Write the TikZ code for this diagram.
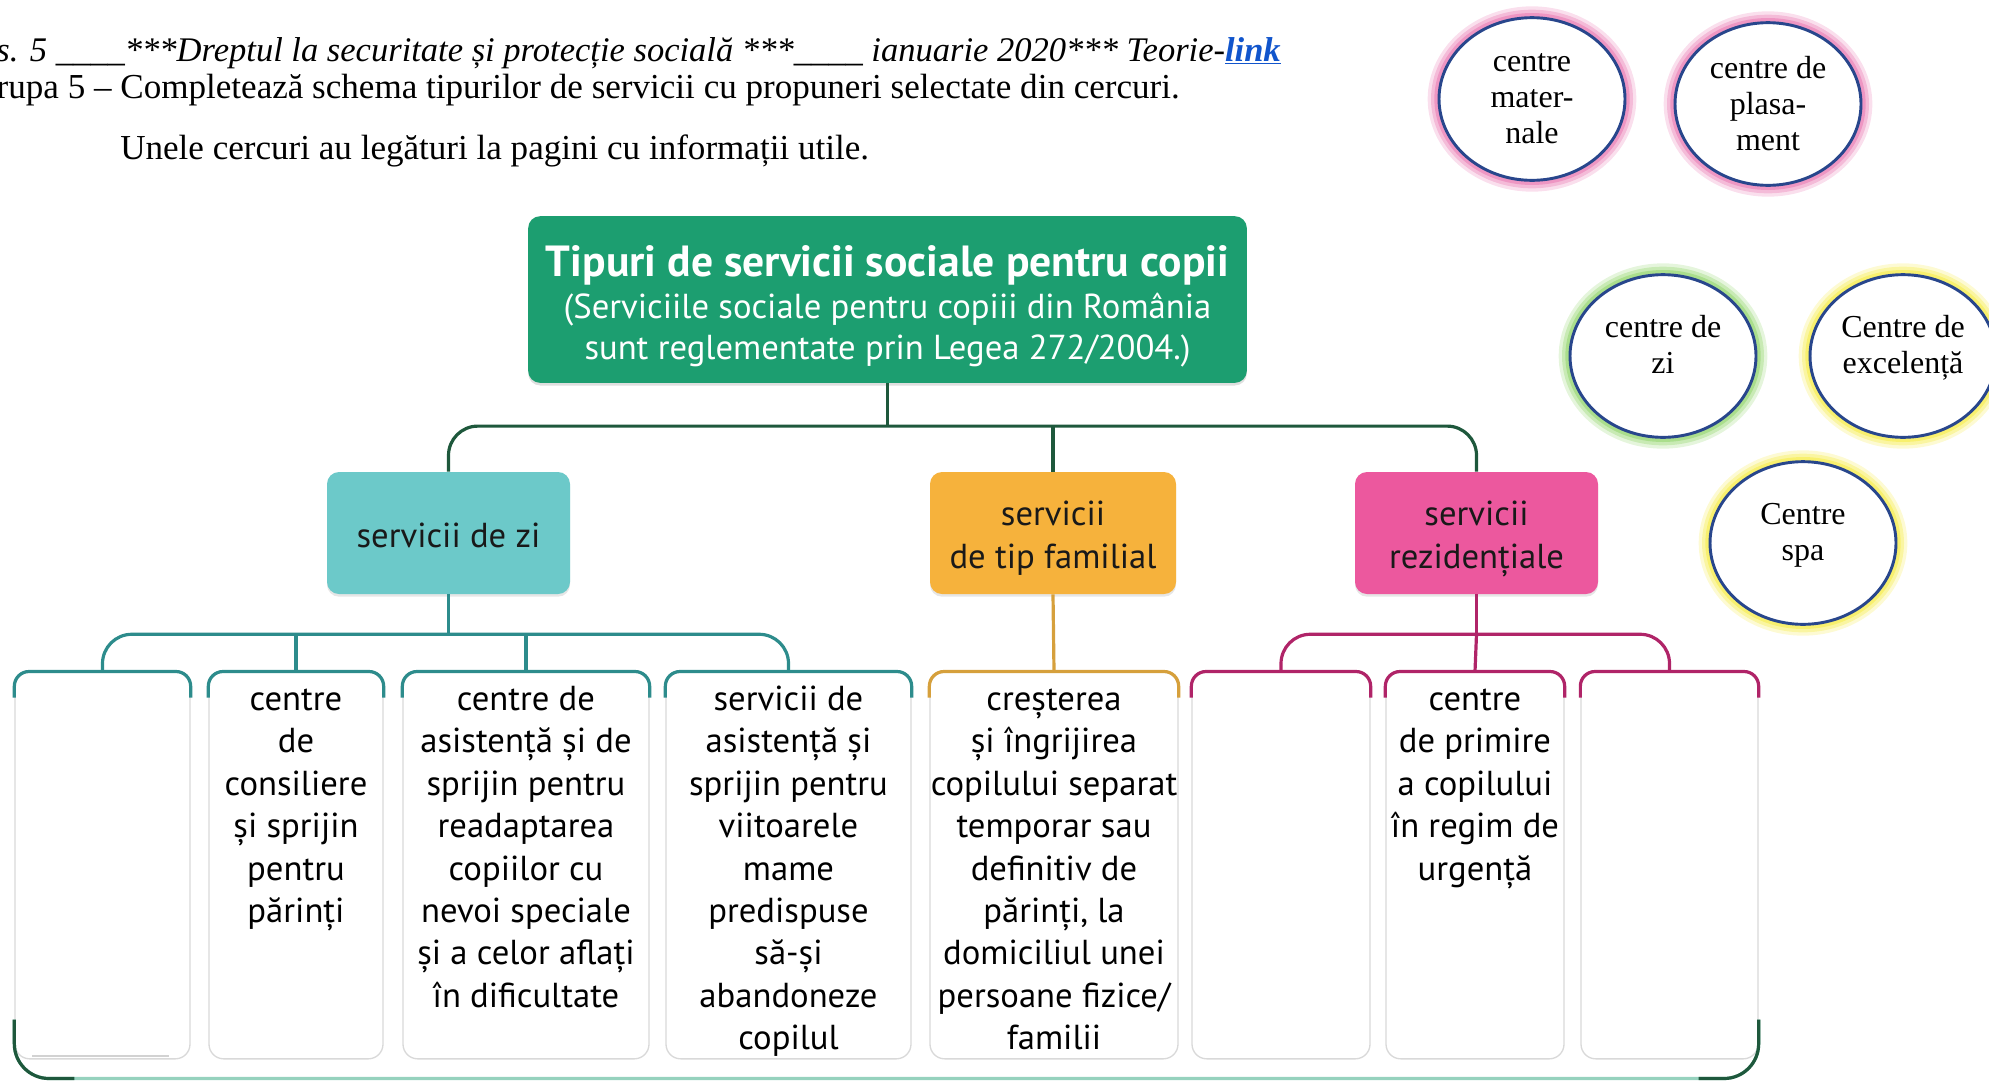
\documentclass[tikz,border=0pt]{standalone}
\usepackage{fontspec}
\setmainfont{Liberation Serif}
\newfontfamily\ptsans{PT Sans}
\usetikzlibrary{calc,shapes.geometric,shadows}
\definecolor{mgreen}{RGB}{28,158,112}
\definecolor{dgreen}{RGB}{30,88,60}
\definecolor{tealbox}{RGB}{108,201,201}
\definecolor{tealln}{RGB}{45,140,140}
\definecolor{orgbox}{RGB}{246,178,60}
\definecolor{orgln}{RGB}{214,160,60}
\definecolor{pinkbox}{RGB}{236,88,158}
\definecolor{pinkln}{RGB}{176,36,104}
\definecolor{cblue}{RGB}{40,70,140}
\definecolor{glowpink}{RGB}{238,150,195}
\definecolor{glowgreen}{RGB}{170,222,140}
\definecolor{glowyellow}{RGB}{248,240,110}
\definecolor{linkblue}{RGB}{17,85,204}
\definecolor{mint}{RGB}{150,210,190}
\newsavebox\shbox
\newcommand\shiftbox[2]{\sbox\shbox{#2}\raisebox{#1}[\ht\shbox][\dp\shbox]{\usebox\shbox}}
\newcommand\leaftext[2]{\parbox[c][290pt][t]{#1}{\centering\vspace*{6.5pt}\begin{tabular}[t]{@{}c@{}}#2\end{tabular}}}
\newcommand\twoline[1]{\shiftbox{5.7pt}{\begin{tabular}{@{}c@{}}#1\end{tabular}}}
\newcommand\catlines[1]{\shiftbox{-4.3pt}{\begin{tabular}{@{}c@{}}#1\end{tabular}}}
\begin{document}
\begin{tikzpicture}[x=0.75pt,y=-0.75pt,
  mainbox/.style={fill=mgreen, rounded corners=9pt, minimum width=539pt, minimum height=125pt, text=white, align=center, inner sep=0pt,
    drop shadow={shadow xshift=0pt, shadow yshift=-2pt, opacity=0.25}, font=\ptsans\fontsize{26}{30.5}\selectfont},
  catbox/.style={fill=#1, rounded corners=9pt, minimum height=91.5pt, align=center, inner sep=0pt, text=black!90,
    drop shadow={shadow xshift=0pt, shadow yshift=-2pt, opacity=0.2}, font=\ptsans\fontsize{26}{32}\selectfont},
  leafbox/.style={draw=gray!30, line width=1pt, fill=white, rounded corners=11pt, inner sep=0pt,
    font=\ptsans\fontsize{26}{31.8}\selectfont},
  dline/.style={draw=dgreen, line width=2.4pt},
  tline/.style={draw=tealln, line width=2.4pt},
  oline/.style={draw=orgln, line width=2.4pt},
  pline/.style={draw=pinkln, line width=2.4pt},
  circ/.style={ellipse, draw=cblue, line width=2.2pt, fill=white, minimum width=139.5pt, minimum height=122pt, inner sep=0pt,
    align=center, font=\fontsize{24}{27}\selectfont,
    preaction={draw=#1, line width=17pt, opacity=0.3},
    preaction={draw=#1, line width=12pt, opacity=0.5},
    preaction={draw=#1, line width=7pt}},
  hdr/.style={inner sep=0pt, font=\fontsize{26.3}{30}\selectfont}
]
\useasboundingbox (0,0) rectangle (1989,1082);

% header text
\node[hdr, anchor=base east, font=\fontsize{25.9}{30}\selectfont] (h1) at (1281,61) {\itshape s. 5 \_\_\_\_***Dreptul la securitate și protecție socială ***\_\_\_\_ ianuarie 2020*** Teorie-\textcolor{linkblue}{\bfseries\underline{link}}};
\node[hdr, anchor=base east] (h2) at (1180,98) {rupa 5 – Completează schema tipurilor de servicii cu propuneri selectate din cercuri.};
\node[hdr, anchor=base west] (h3) at (120,159) {Unele cercuri au legături la pagini cu informații utile.};

% circles
\node[circ=glowpink] (cm) at (1532,99) {centre\\mater-\\nale};
\node[circ=glowpink] (cp) at (1768,104) {centre de\\plasa-\\ment};
\node[circ=glowgreen] (cz) at (1663,356) {\twoline{centre de\\zi}};
\node[circ=glowyellow] (ce) at (1903,356) {\twoline{Centre de\\excelență}};
\node[circ=glowyellow] (cs) at (1803,543) {\twoline{Centre\\spa}};

% main and category boxes
\node[mainbox] (main) at (887.5,299.5) {\shiftbox{-6.6pt}{\begin{tabular}{@{}c@{}}{\bfseries\fontsize{32.7}{30.5}\selectfont Tipuri de servicii sociale pentru copii}\\[1pt](Serviciile sociale pentru copiii din România\\sunt reglementate prin Legea 272/2004.)\end{tabular}}};
\node[catbox=tealbox, minimum width=182.25pt] (teal) at (448.5,533) {\catlines{servicii de zi}};
\node[catbox=orgbox, minimum width=184.5pt] (org) at (1053,533) {\catlines{servicii\\de tip familial}};
\node[catbox=pinkbox, minimum width=182.25pt] (pink) at (1476.5,533) {\catlines{servicii\\rezidențiale}};

% leaves
\node[leafbox] (L1) at (102.5,865.5) {\leaftext{131.25pt}{}};
\node[leafbox] (L2) at (296,865.5) {\leaftext{130.5pt}{centre\\de\\consiliere\\și sprijin\\pentru\\părinți}};
\node[leafbox] (L3) at (526,865.5) {\leaftext{184.5pt}{centre de\\asistență și de\\sprijin pentru\\readaptarea\\copiilor cu\\nevoi speciale\\și a celor aflați\\în dificultate}};
\node[leafbox] (L4) at (788.5,865.5) {\leaftext{183.75pt}{servicii de\\asistență și\\sprijin pentru\\viitoarele\\mame\\predispuse\\să-și\\abandoneze\\copilul}};
\node[leafbox] (L5) at (1054,865.5) {\leaftext{186pt}{creșterea\\și îngrijirea\\copilului separat\\temporar sau\\definitiv de\\părinți, la\\domiciliul unei\\persoane fizice/\\familii}};
\node[leafbox] (L6) at (1281,865.5) {\leaftext{133.5pt}{}};
\node[leafbox] (L7) at (1475,865.5) {\leaftext{133.5pt}{centre\\de primire\\a copilului\\în regim de\\urgență}};
\node[leafbox] (L8) at (1669.5,865.5) {\leaftext{132.75pt}{}};

% coloured tops of leaves
\foreach \L/\s in {L1/tline,L2/tline,L3/tline,L4/tline,L5/oline,L6/pline,L7/pline,L8/pline}{
  \draw[\s, rounded corners=11pt] ($(\L.north west)+(0,26)$) -- (\L.north west) -- (\L.north east) -- ($(\L.north east)+(0,26)$);
}
\draw[gray!35, line width=1.5pt] ($(L1.south west)+(18,-4)$) -- ($(L1.south east)+(-22,-4)$);

% bottom bracket
\draw[draw=mint, line width=2.4pt, rounded corners=26pt] ($(L1.south west)+(0,-40)$) -- ($(L1.south west)+(0,19)$) -- ($(L8.south east)+(0,19)$) -- ($(L8.south east)+(0,-40)$);
\draw[dline, rounded corners=26pt] ($(L1.south west)+(0,-40)$) -- ($(L1.south west)+(0,19)$) -- ($(L1.south west)+(60,19)$);
\draw[dline, rounded corners=26pt] ($(L8.south east)+(-60,19)$) -- ($(L8.south east)+(0,19)$) -- ($(L8.south east)+(0,-40)$);

% connectors level 1
\draw[dline] (main.south) -- ++(0,43) coordinate (b1);
\draw[dline, rounded corners=22pt] (teal.north) |- (b1) -| (pink.north);
\draw[dline] (b1 -| org.north) -- (org.north);

% teal subtree
\draw[tline] (teal.south) -- ++(0,40) coordinate (b2);
\draw[tline, rounded corners=22pt] (L1.north) |- (b2) -| (L4.north);
\draw[tline] (b2 -| L2.north) -- (L2.north);
\draw[tline] (b2 -| L3.north) -- (L3.north);

% orange
\draw[oline] (org.south) -- (L5.north);

% pink subtree
\draw[pline] (pink.south) -- ++(0,40) coordinate (b3);
\draw[pline, rounded corners=22pt] (L6.north) |- (b3) -| (L8.north);
\draw[pline] (b3) -- (L7.north);
\end{tikzpicture}
\end{document}
